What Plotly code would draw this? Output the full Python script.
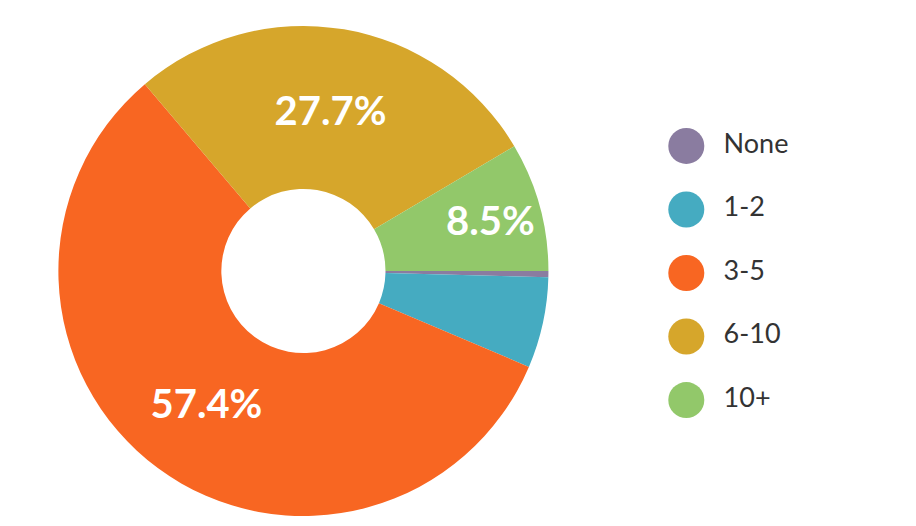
import plotly.graph_objects as go

labels = ["None", "1-2", "3-5", "6-10", "10+"]
values = [0.4, 6.0, 57.4, 27.7, 8.5]
colors = ["#8a7ca0", "#45abc1", "#f86622", "#d6a62b", "#92c86a"]
show_label = [False, False, True, True, True]

fig = go.Figure()
fig.add_trace(go.Pie(
    labels=labels, values=values, sort=False, direction="clockwise", rotation=90,
    hole=0.335, marker=dict(colors=colors, line=dict(width=0)),
    texttemplate=["<b>%{percent:.1%}</b>" if s else "" for s in show_label],
    textposition="inside", insidetextorientation="horizontal",
    textfont=dict(family="Lato", size=40, color="white"),
    showlegend=False, hoverinfo="label+percent",
    domain=dict(x=[0.055, 0.59], y=[0.034, 0.966]),
))

# custom legend with big round markers
fig.add_trace(go.Scatter(
    x=[0] * len(labels), y=list(range(len(labels))), mode="markers+text",
    text=["  " + l for l in labels], textposition="middle right",
    textfont=dict(family="Lato", size=27, color="#333333"),
    marker=dict(color=colors, size=36), showlegend=False, hoverinfo="skip",
    cliponaxis=False,
))

fig.update_layout(
    width=916, height=526, margin=dict(l=0, r=0, t=0, b=0),
    paper_bgcolor="white", plot_bgcolor="white",
    font=dict(family="Lato", color="#333333"),
    xaxis=dict(visible=False, domain=[0.7, 1], range=[-0.135, 0.865]),
    yaxis=dict(visible=False, domain=[0, 1], range=[6.11, -2.173]),
)

fig.write_html("out.html")
